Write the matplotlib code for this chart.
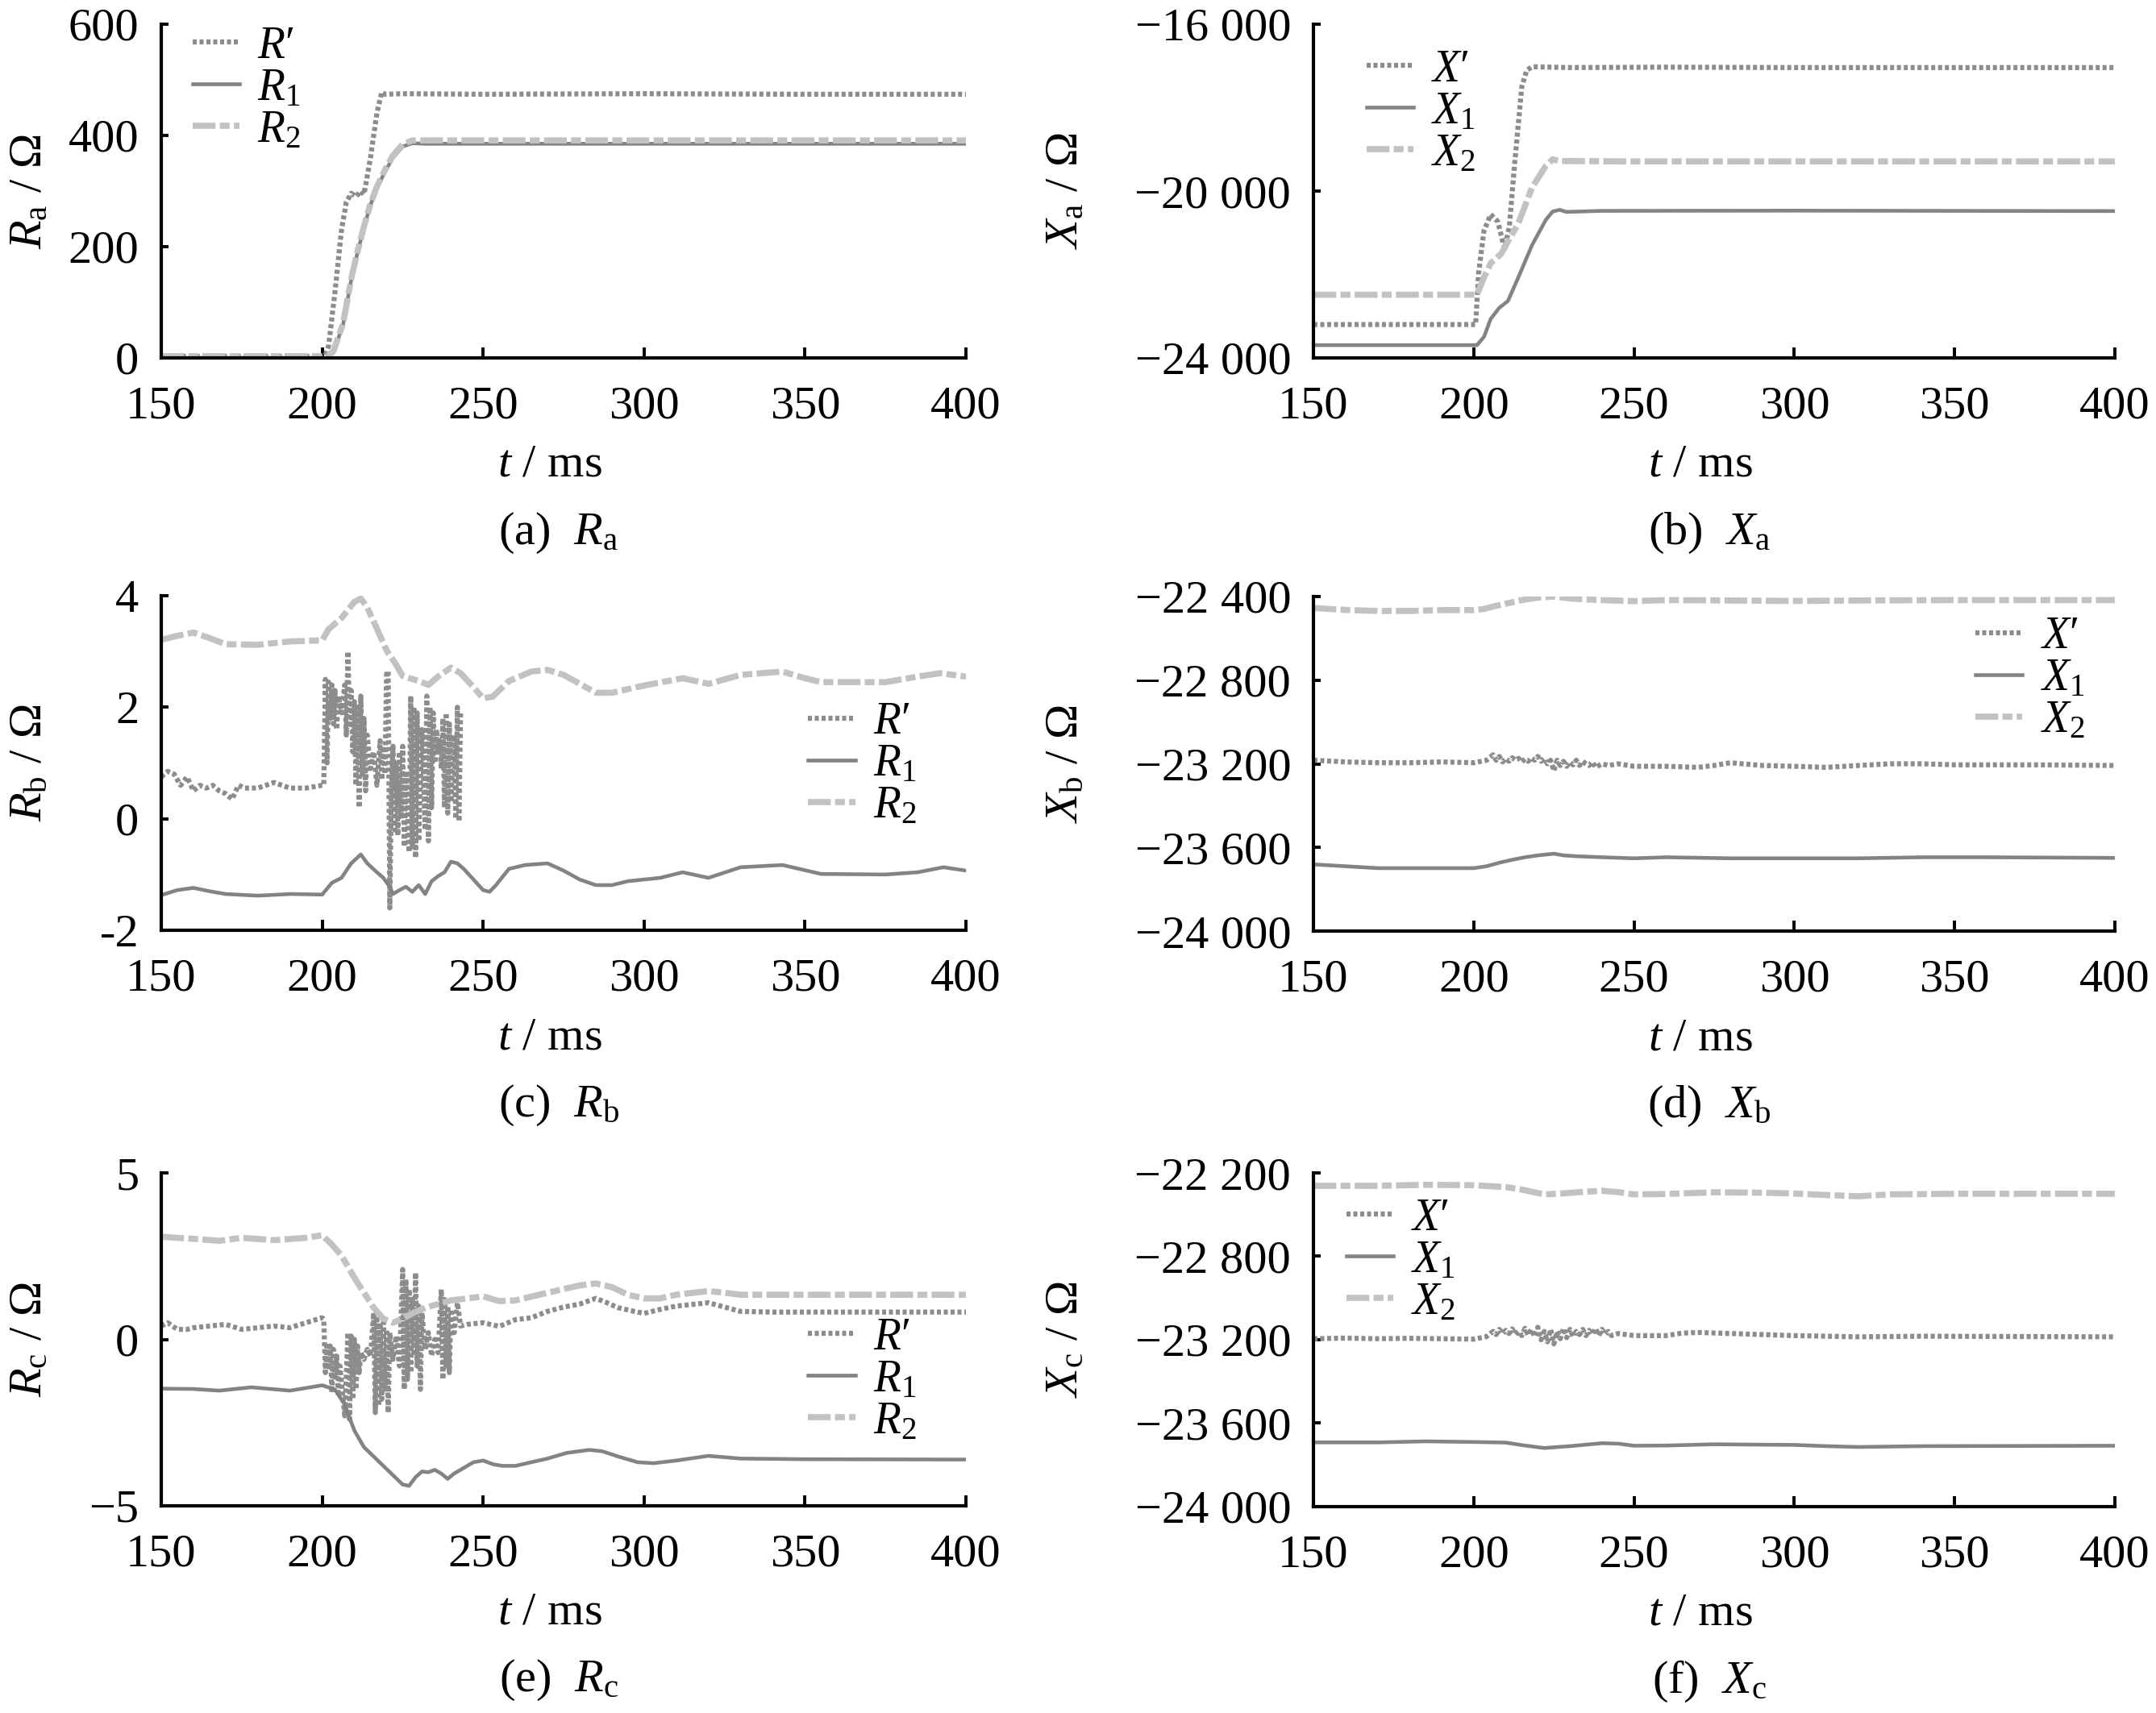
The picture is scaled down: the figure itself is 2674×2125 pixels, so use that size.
import matplotlib
matplotlib.use('Agg')
import matplotlib.pyplot as plt

plt.rcParams['font.family'] = ['Liberation Serif', 'DejaVu Serif']
plt.rcParams['mathtext.fontset'] = 'custom'
plt.rcParams['mathtext.rm'] = 'Liberation Serif'
plt.rcParams['mathtext.it'] = 'Liberation Serif:italic'
plt.rcParams['mathtext.bf'] = 'Liberation Serif:bold'

# ---------------- data ----------------
# (a) R_a
ta_p = [150, 200, 201, 202, 204, 206, 207.5, 209, 210.5, 212, 213, 215, 217, 218.5, 219.5, 225, 250, 300, 350, 400]
ra_p = [3, 3, 5, 22, 120, 230, 280, 296, 290, 300, 294, 360, 440, 478, 474, 475, 474, 475, 474, 474]
ta_12 = [150, 200, 201.5, 203.5, 206.5, 209, 211, 213, 215, 217, 219.5, 222, 225, 228, 232, 250, 300, 350, 400]
ra_1 = [0, 0, 0, 10, 60, 140, 190, 235, 275, 305, 335, 360, 380, 386, 385, 385, 385, 385, 385]
ra_2 = [3, 3, 3, 12, 62, 142, 192, 237, 277, 308, 338, 364, 384, 391, 391, 391, 391, 391, 391]

# (b) X_a
tb_p = [150, 200.6, 201.5, 203.2, 205.3, 207.5, 209.6, 211.1, 212.8, 215, 216.5, 218.2, 230, 260, 300, 350, 400]
xa_p = [-23200, -23200, -21985, -20950, -20560, -20730, -21380, -20865, -19310, -17500, -17110, -17020,
        -17040, -17030, -17040, -17040, -17040]
tb_1 = [150, 201, 203.2, 205.3, 207.9, 210.7, 213.9, 218.2, 222.5, 224.6, 226.8, 228.9, 240, 300, 350, 400]
xa_1 = [-23694, -23694, -23495, -23064, -22805, -22632, -22071, -21295, -20690, -20492, -20450, -20500,
        -20475, -20470, -20475, -20480]
tb_2 = [150, 201, 203.2, 205.3, 208.5, 210.7, 213.9, 218.2, 222.5, 224.6, 226.8, 250, 300, 350, 400]
xa_2 = [-22485, -22485, -22071, -21726, -21510, -21208, -20777, -19914, -19396, -19240, -19280, -19290,
        -19290, -19290, -19290]

# (c) R_b
tc_p = [150, 152, 154, 156, 158, 160, 162, 164, 166, 168, 170, 172, 174, 176, 180, 185, 190, 195, 200,
        200.5, 201, 201.5, 202, 202.5, 203, 203.5, 204, 204.5, 205, 206, 207, 207.5, 208, 208.5, 209,
        209.5, 210, 210.5, 211, 211.5, 212, 212.5, 213, 213.5, 214, 215, 216, 217, 218, 218.5, 219,
        219.5, 220, 220.5, 221, 221.5, 222, 222.5, 223, 223.5, 224, 224.5, 225, 225.5, 226, 227, 227.5,
        228, 228.5, 229, 229.5, 230, 231, 232, 232.5, 233, 233.5, 234, 234.5, 235, 235.5, 236, 236.5,
        237, 237.5, 238, 238.5, 239, 239.5, 240, 241, 241.5, 242, 242.5, 243]
rb_p = [0.75, 0.85, 0.8, 0.6, 0.75, 0.5, 0.6, 0.55, 0.6, 0.5, 0.45, 0.35, 0.6, 0.55, 0.55, 0.65, 0.55, 0.55, 0.6,
        0.6, 2.5, 1.0, 2.45, 1.8, 2.4, 1.7, 2.3, 1.6, 2.2, 1.9, 2.4, 1.5, 3.0, 1.7, 2.3,
        1.2, 2.1, 0.6, 2.0, 0.2, 2.2, 0.8, 1.8, 0.5, 1.5, 0.9, 1.2, 0.6, 1.4, 0.7, 1.3,
        0.8, 2.6, 2.65, -1.6, 0.5, 1.3, -0.2, 1.0, -0.3, 1.2, 0.0, 1.3, -0.5, 0.8, -0.6, 2.2,
        -0.5, 2.0, -0.7, 1.9, -0.4, 1.6, -0.2, 2.2, -0.4, 2.0, 0.2, 1.9, 1.0, 1.6, 1.2, 1.4,
        0.9, 1.8, 0.2, 1.9, 0.1, 1.7, 0.3, 1.5, 0.0, 2.0, -0.05, 1.9]
tc_1 = [150, 155, 160, 165, 170, 180, 190, 200, 203, 206, 209, 212, 214, 217, 219, 221, 222, 224, 226, 228,
        230, 232, 234, 236, 238, 240, 242, 244, 247, 250, 252, 254, 258, 263, 270, 275, 280, 285, 290, 295,
        305, 312, 320, 330, 343, 355, 375, 385, 393, 400]
rb_1 = [-1.37, -1.28, -1.24, -1.30, -1.35, -1.38, -1.35, -1.36, -1.15, -1.06, -0.8, -0.64, -0.8, -0.96, -1.06,
        -1.22, -1.35, -1.28, -1.22, -1.31, -1.19, -1.35, -1.12, -1.03, -0.96, -0.77, -0.8, -0.9, -1.09, -1.28,
        -1.31, -1.19, -0.9, -0.83, -0.8, -0.93, -1.09, -1.19, -1.19, -1.12, -1.06, -0.96, -1.06, -0.87, -0.83,
        -0.99, -1.0, -0.96, -0.87, -0.93]
tc_2 = [150, 155, 160, 165, 170, 180, 190, 200, 202, 206, 210, 212, 214, 218, 220, 223, 225, 230, 233, 236,
        240, 243, 247, 250, 253, 258, 265, 270, 275, 280, 285, 290, 300, 312, 320, 330, 343, 350, 355, 375,
        385, 392, 400]
rb_2 = [3.21, 3.28, 3.34, 3.24, 3.13, 3.12, 3.18, 3.2, 3.4, 3.6, 3.89, 3.95, 3.79, 3.28, 3.02, 2.76, 2.56, 2.47,
        2.4, 2.55, 2.71, 2.61, 2.36, 2.16, 2.19, 2.47, 2.64, 2.67, 2.58, 2.42, 2.26, 2.26, 2.39, 2.52, 2.42,
        2.58, 2.64, 2.52, 2.45, 2.45, 2.55, 2.61, 2.55]

# (d) X_b
td_p = [150, 160, 170, 180, 190, 200, 204, 206, 207, 208, 209, 210, 211, 212, 213, 214, 215, 216, 217, 218,
        219, 220, 221, 222, 223, 224, 225, 226, 227, 228, 229, 230, 231, 232, 233, 234, 235, 236, 237, 238,
        240, 242, 245, 250, 260, 270, 275, 280, 290, 300, 310, 320, 330, 340, 350, 375, 400]
xb_p = [-23183, -23191, -23195, -23195, -23191, -23195, -23183, -23157, -23183, -23165, -23191, -23174,
        -23188, -23171, -23183, -23174, -23191, -23177, -23188, -23171, -23183, -23165, -23188, -23174,
        -23200, -23183, -23234, -23183, -23208, -23188, -23212, -23191, -23205, -23183, -23208, -23188,
        -23200, -23208, -23191, -23217, -23200, -23208, -23200, -23212, -23212, -23217, -23208, -23195,
        -23208, -23212, -23217, -23208, -23200, -23200, -23205, -23205, -23208]
td_1 = [150, 160, 170, 180, 190, 200, 204, 208, 212, 216, 220, 225, 228, 232, 240, 250, 260, 280, 300, 320,
        340, 360, 400]
xb_1 = [-23681, -23690, -23699, -23699, -23699, -23699, -23690, -23673, -23659, -23647, -23638, -23630,
        -23638, -23642, -23647, -23652, -23647, -23652, -23652, -23652, -23647, -23647, -23650]
td_2 = [150, 160, 170, 180, 190, 200, 203, 206, 210, 215, 220, 225, 230, 235, 240, 250, 260, 280, 300, 320,
        350, 400]
xb_2 = [-22455, -22464, -22469, -22469, -22465, -22465, -22460, -22448, -22434, -22417, -22405, -22400,
        -22409, -22414, -22417, -22422, -22417, -22419, -22421, -22419, -22417, -22417]

# (e) R_c
te_p = [150, 152, 155, 158, 160, 165, 170, 175, 180, 185, 190, 195, 200,
        200.5, 201, 201.5, 202, 202.5, 203, 203.5, 204, 204.5, 205, 205.5, 207, 208, 208.5, 209, 209.5,
        210, 210.5, 211, 211.5, 212, 213, 214, 215, 216, 216.5, 217, 217.5, 218, 218.5, 219, 219.5, 220,
        220.5, 221, 222, 223, 224, 225, 225.5, 226, 226.5, 227, 227.5, 228, 228.5, 229, 229.5, 230, 230.5,
        231, 232, 233, 234, 235, 236, 237, 237.5, 238, 238.5, 239, 239.5, 240, 241, 242, 243,
        245, 250, 255, 260, 265, 270, 275, 280, 285, 288, 292, 297, 300, 305, 310, 315, 320, 325, 330, 340, 400]
rc_p = [0.4, 0.5, 0.3, 0.3, 0.35, 0.4, 0.45, 0.3, 0.35, 0.4, 0.35, 0.5, 0.65,
        0.6, -1.0, -0.1, -0.9, -0.2, -1.6, -0.3, -1.2, -0.5, -1.7, -0.8, -2.3, 0.2, -2.4, 0.1, -1.8,
        0.0, -1.5, -0.2, -1.0, -0.4, -0.6, -0.3, -0.5, 0.8, -2.2, 0.6, -2.0, 0.4, -1.8, 0.5, -1.5, 0.3,
        -2.2, 0.2, -0.6, 0.1, -0.8, 2.1, -1.5, 1.8, -1.2, 1.5, -1.0, 1.2, -0.5, 2.0, -0.8, 1.0, -1.5,
        0.8, -0.3, 0.2, -0.5, 0.0, -0.4, 1.5, -1.2, 1.2, -0.8, 1.0, -1.0, 0.9, 0.2, 1.1, 0.4,
        0.45, 0.5, 0.39, 0.59, 0.65, 0.84, 0.97, 1.06, 1.23, 1.12, 0.95, 0.84, 0.78, 0.9, 1.0, 1.05, 1.1,
        0.97, 0.84, 0.82, 0.82]
te_1 = [150, 160, 168, 178, 190, 200, 204, 207, 210, 213, 216, 219, 222, 225, 227, 229, 231, 233, 235, 237,
        239, 241, 244, 247, 250, 253, 256, 260, 265, 270, 276, 283, 287, 292, 298, 303, 310, 320, 330, 350, 400]
rc_1 = [-1.48, -1.49, -1.54, -1.44, -1.54, -1.38, -1.51, -1.96, -2.74, -3.24, -3.52, -3.8, -4.08, -4.36, -4.4,
        -4.14, -3.97, -3.99, -3.92, -4.03, -4.19, -4.03, -3.86, -3.69, -3.64, -3.75, -3.8, -3.8, -3.69, -3.58,
        -3.41, -3.32, -3.36, -3.52, -3.69, -3.72, -3.64, -3.5, -3.58, -3.6, -3.61]
te_2 = [150, 160, 168, 175, 185, 195, 200, 203, 206, 210, 213, 216, 219, 222, 225, 228, 232, 236, 240, 245,
        250, 255, 260, 270, 280, 285, 290, 295, 300, 305, 310, 320, 325, 330, 400]
rc_2 = [3.08, 3.02, 2.96, 3.05, 2.98, 3.05, 3.13, 2.85, 2.52, 1.85, 1.4, 0.95, 0.62, 0.5, 0.62, 0.78, 0.95,
        1.06, 1.17, 1.23, 1.29, 1.15, 1.17, 1.4, 1.62, 1.68, 1.57, 1.34, 1.23, 1.23, 1.34, 1.45, 1.4, 1.34, 1.34]

# (f) X_c
tf_p = [150, 160, 170, 180, 190, 200, 204, 206, 207, 208, 209, 210, 211, 212, 213, 214, 215, 216, 217, 218,
        219, 220, 221, 222, 223, 224, 225, 226, 227, 228, 229, 230, 231, 232, 233, 234, 235, 236, 237, 238,
        239, 240, 241, 242, 243, 245, 250, 260, 265, 270, 280, 290, 300, 320, 340, 400]
xc_p = [-23195, -23192, -23195, -23193, -23195, -23197, -23185, -23160, -23175, -23150, -23172, -23155,
        -23170, -23148, -23175, -23160, -23180, -23145, -23178, -23150, -23185, -23140, -23200, -23160,
        -23210, -23150, -23220, -23160, -23195, -23145, -23190, -23150, -23185, -23160, -23175, -23150,
        -23180, -23155, -23175, -23145, -23180, -23150, -23175, -23160, -23180, -23170, -23180, -23180,
        -23168, -23165, -23170, -23175, -23180, -23186, -23183, -23186]
tf_1 = [150, 170, 185, 200, 210, 215, 222, 230, 240, 245, 250, 260, 275, 290, 300, 310, 320, 340, 400]
xc_1 = [-23692, -23692, -23687, -23690, -23693, -23705, -23719, -23710, -23696, -23698, -23708, -23707,
        -23701, -23703, -23704, -23710, -23714, -23710, -23708]
tf_2 = [150, 170, 185, 200, 210, 215, 222, 228, 235, 240, 245, 250, 260, 275, 290, 300, 310, 320, 330, 350, 400]
xc_2 = [-22462, -22462, -22457, -22459, -22468, -22480, -22503, -22498, -22490, -22486, -22492, -22503,
        -22501, -22493, -22495, -22499, -22506, -22512, -22503, -22500, -22500]

# tick values and labels
x_ticks = [150, 200, 250, 300, 350, 400]
ya_ticks, ya_labels = [0, 200, 400, 600], ['0', '200', '400', '600']
yb_ticks, yb_labels = [-24000, -20000, -16000], ['\u221224 000', '\u221220 000', '\u221216 000']
yc_ticks, yc_labels = [-2, 0, 2, 4], ['-2', '0', '2', '4']
yd_ticks = [-24000, -23600, -23200, -22800, -22400]
yd_labels = ['\u221224 000', '\u221223 600', '\u221223 200', '\u221222 800', '\u221222 400']
ye_ticks, ye_labels = [-5, 0, 5], ['\u22125', '0', '5']
yf_ticks = [-24000, -23600, -23200, -22800, -22400]
yf_labels = ['\u221224 000', '\u221223 600', '\u221223 200', '\u221222 800', '\u221222 200']

# ---------------- drawing ----------------
c_p, c_1, c_2 = '#8c8c8c', '#838383', '#c2c2c2'
FS = 42
OHM = '\u03a9'
PRIME = '\u2032'

fig = plt.figure(figsize=(26.74, 21.25), dpi=100)

W, H = 2674, 2125
def rect(x0, x1, y0, y1):
    return [x0 / W, 1 - y1 / H, (x1 - x0) / W, (y1 - y0) / H]

panels = [
    # rect, data, ylim, ticks, labels, symbol, phase, letter, legend anchor, ylabel x
    (rect(200, 1198, 30, 444), (ta_p, ra_p, ta_12, ra_1, ta_12, ra_2), (0, 600), ya_ticks, ya_labels,
     'R', 'a', '(a)', (0.039, 0.807), -0.163),
    (rect(1629, 2623, 30, 444), (tb_p, xa_p, tb_1, xa_1, tb_2, xa_2), (-24000, -16000), yb_ticks, yb_labels,
     'X', 'a', '(b)', (0.066, 0.737), -0.309),
    (rect(200, 1198, 739, 1154), (tc_p, rb_p, tc_1, rb_1, tc_2, rb_2), (-2, 4), yc_ticks, yc_labels,
     'R', 'b', '(c)', (0.804, 0.496), -0.163),
    (rect(1629, 2623, 740, 1155), (td_p, xb_p, td_1, xb_1, td_2, xb_2), (-24000, -22400), yd_ticks, yd_labels,
     'X', 'b', '(d)', (0.826, 0.754), -0.309),
    (rect(200, 1198, 1455, 1868), (te_p, rc_p, te_1, rc_1, te_2, rc_2), (-5, 5), ye_ticks, ye_labels,
     'R', 'c', '(e)', (0.804, 0.378), -0.163),
    (rect(1629, 2623, 1455, 1869), (tf_p, xc_p, tf_1, xc_1, tf_2, xc_2), (-24000, -22400), yf_ticks, yf_labels,
     'X', 'c', '(f)', (0.041, 0.737), -0.309),
]

for r, d, ylim, yt, yl, sym, sub, letter, lg, ylx in panels:
    ax = fig.add_axes(r)
    ax.plot(d[0], d[1], color=c_p, lw=4.5, dashes=(0.8, 0.56), label='$%s$%s' % (sym, PRIME))
    ax.plot(d[2], d[3], color=c_1, lw=3.3, label='$%s_1$' % sym)
    ax.plot(d[4], d[5], color=c_2, lw=5.5, dashes=(3.7, 0.7, 1.6, 0.7), label='$%s_2$' % sym)

    ax.set_xlim(150, 400)
    ax.set_ylim(*ylim)
    ax.set_xticks(x_ticks)
    ax.set_yticks(yt)
    ax.set_yticklabels(yl)
    for s in ['top', 'right']:
        ax.spines[s].set_visible(False)
    for s in ['left', 'bottom']:
        ax.spines[s].set_linewidth(3)
    ax.tick_params(axis='x', direction='in', length=9.5, width=2.8, labelsize=FS, pad=25)
    ax.tick_params(axis='y', direction='in', length=6.5, width=2.8, labelsize=FS, pad=20)

    ax.set_xlabel('$t$ / ms', fontsize=FS)
    ax.xaxis.set_label_coords(0.483, -0.321)
    ax.xaxis.label.set_va('center')
    ax.set_ylabel('$%s_{\\rm %s}$ / %s' % (sym, sub, OHM), fontsize=FS)
    ax.yaxis.set_label_coords(ylx, 0.5)
    ax.yaxis.label.set_va('center')

    ax.text(0.494, -0.524, '%s  $%s_{\\rm %s}$' % (letter, sym, sub), transform=ax.transAxes,
            ha='center', va='center', fontsize=FS)

    ax.legend(loc='center left', bbox_to_anchor=lg, frameon=False, fontsize=40,
              handlelength=1.05, handletextpad=0.4, labelspacing=0.0,
              borderpad=0, borderaxespad=0)

fig.savefig('out.png', dpi=100)
